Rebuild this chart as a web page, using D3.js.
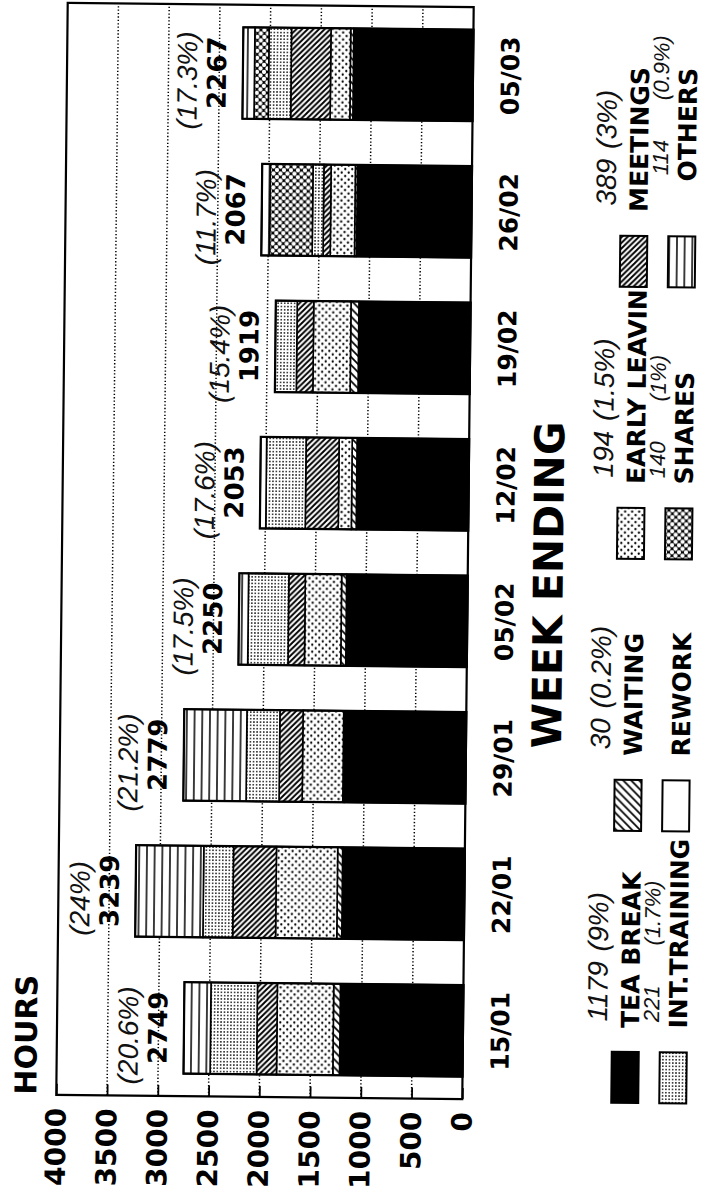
<!DOCTYPE html>
<html>
<head>
<meta charset="utf-8">
<script src="https://cdn.jsdelivr.net/npm/d3@7"></script>
<style>
  html, body { margin: 0; padding: 0; background: #fff; }
  svg { display: block; }
</style>
</head>
<body>
<svg id="chart" width="704" height="1199"></svg>
<script>
// Lost hours per week, split by reason (stacked from the base up)
const weeks        = ["15/01", "22/01", "29/01", "05/02", "12/02", "19/02", "26/02", "05/03"];
const teaBreak     = [1212, 1204, 1193, 1193, 1104, 1100, 1129, 1179];
const waiting      = [66, 49, 15, 49, 48, 78, 20, 30];
const earlyLeaving = [555, 603, 400, 358, 129, 367, 239, 194];
const meetings     = [196, 423, 228, 162, 325, 163, 71, 389];
const intTraining  = [458, 293, 325, 397, 389, 211, 107, 221];
const rework       = [0, 0, 0, 0, 58, 0, 0, 0];
const shares       = [0, 0, 0, 0, 0, 0, 421, 140];
const others       = [262, 667, 618, 91, 0, 0, 80, 114];
// hand-written share of available hours, one per week
const weekShare    = ["(20.6%)", "(24%)", "(21.2%)", "(17.5%)", "(17.6%)", "(15.4%)", "(11.7%)", "(17.3%)"];
const hourTicks    = [0, 500, 1000, 1500, 2000, 2500, 3000, 3500, 4000];

// legend entries, in stacking order
const reasonKeys   = ["tea", "waiting", "early", "meetings", "training", "rework", "shares", "others"];
const reasonNames  = ["TEA BREAK", "WAITING", "EARLY LEAVING", "MEETINGS", "INT.TRAINING", "REWORK", "SHARES", "OTHERS"];
const noteHours    = ["1179", "30", "194", "389", "221", "", "140", "114"];
const notePercent  = ["(9%)", "(0.2%)", "(1.5%)", "(3%)", "(1.7%)", "", "(1%)", "(0.9%)"];

const series = [teaBreak, waiting, earlyLeaving, meetings, intTraining, rework, shares, others];
const table = weeks.map((w, i) => {
  const row = { week: w };
  reasonKeys.forEach((k, j) => { row[k] = series[j][i]; });
  return row;
});

const FONT = "'DejaVu Sans', 'Liberation Sans', Arial, sans-serif";
const HAND = "'Liberation Sans', 'DejaVu Sans', sans-serif";

const svg = d3.select("#chart");
svg.append("rect").attr("width", 704).attr("height", 1199).attr("fill", "#fff");

// ---- fill patterns (tiles drawn in page orientation) ----
const defs = svg.append("defs");
function pattern(id, w, h, draw) {
  const p = defs.append("pattern")
    .attr("id", id)
    .attr("patternUnits", "userSpaceOnUse")
    .attr("width", w).attr("height", h)
    .attr("patternTransform", "rotate(90)");
  p.append("rect").attr("width", w).attr("height", h).attr("fill", "#fff");
  draw(p, w, h);
}
pattern("p-waiting", 8, 8, p => p.append("path")
  .attr("d", "M-2,-2L10,10M-2,6L2,10M6,-2L10,2")
  .attr("stroke", "#000").attr("stroke-width", 1.7));
pattern("p-early", 7, 7, p => {
  p.append("circle").attr("cx", 1.75).attr("cy", 1.75).attr("r", 1.15).attr("fill", "#000");
  p.append("circle").attr("cx", 5.25).attr("cy", 5.25).attr("r", 1.15).attr("fill", "#000");
});
pattern("p-meetings", 5.6, 5.6, p => p.append("path")
  .attr("d", "M-1,6.6L6.6,-1M-1.4,1.4L1.4,-1.4M4.2,7L7,4.2")
  .attr("stroke", "#000").attr("stroke-width", 1.9));
pattern("p-training", 3.3, 3.3, p => p.append("circle")
  .attr("cx", 1.65).attr("cy", 1.65).attr("r", 0.85).attr("fill", "#000"));
pattern("p-shares", 7, 7, p => {
  p.append("rect").attr("width", 7).attr("height", 7).attr("fill", "#000");
  [[0, 0], [7, 0], [0, 7], [7, 7], [3.5, 3.5]].forEach(([cx, cy]) =>
    p.append("circle").attr("cx", cx).attr("cy", cy).attr("r", 2.15).attr("fill", "#fff"));
});
pattern("p-others", 7.7, 8, p => p.append("path")
  .attr("d", "M3.85,-1V9").attr("stroke", "#000").attr("stroke-width", 1.5));

const fills = {
  tea: "#000", waiting: "url(#p-waiting)", early: "url(#p-early)", meetings: "url(#p-meetings)",
  training: "url(#p-training)", rework: "#fff", shares: "url(#p-shares)", others: "url(#p-others)"
};

// ---- chart drawn upright, then turned a quarter turn onto the page ----
const g = svg.append("g")
  .attr("transform", "rotate(0.6,265,550) translate(0,1199) rotate(-90)");

const plotLeft = 102, plotRight = 1194, plotTop = 62, plotBottom = 468;

const x = d3.scaleBand().domain(weeks).range([plotLeft, plotRight])
  .paddingInner(0.33).paddingOuter(0.165);
const y = d3.scaleLinear().domain([0, 4000]).range([plotBottom, plotTop]);

// dotted grid
g.append("g").selectAll("line")
  .data(hourTicks.filter(t => t > 0 && t < 4000))
  .join("line")
  .attr("x1", plotLeft).attr("x2", plotRight)
  .attr("y1", d => y(d)).attr("y2", d => y(d))
  .attr("stroke", "#000").attr("stroke-width", 1.5)
  .attr("stroke-dasharray", "1.3 2.1");

// value axis
const yAxis = d3.axisLeft(y).tickValues(hourTicks).tickFormat(d3.format("d"))
  .tickSizeInner(-11).tickSizeOuter(0).tickPadding(13);
const ya = g.append("g").attr("transform", `translate(${plotLeft},0)`).call(yAxis);
ya.select(".domain").remove();
ya.selectAll(".tick line").attr("stroke", "#000").attr("stroke-width", 1.8);
ya.selectAll(".tick text")
  .attr("font-family", FONT).attr("font-weight", "bold").attr("font-size", 28).attr("fill", "#000");

// stacked bars
const stack = d3.stack().keys(reasonKeys)(table);
g.append("g").selectAll("g")
  .data(stack)
  .join("g")
  .attr("fill", d => fills[d.key])
  .selectAll("rect")
  .data(d => d.filter(s => s[1] - s[0] > 0))
  .join("rect")
  .attr("x", d => x(d.data.week))
  .attr("width", x.bandwidth())
  .attr("y", d => y(d[1]))
  .attr("height", d => y(d[0]) - y(d[1]))
  .attr("stroke", "#000").attr("stroke-width", 1.6);

const totals = table.map(r => d3.sum(reasonKeys, k => r[k]));

g.append("g").selectAll("rect")
  .data(weeks)
  .join("rect")
  .attr("x", d => x(d))
  .attr("width", x.bandwidth())
  .attr("y", (d, i) => y(totals[i]))
  .attr("height", (d, i) => y(0) - y(totals[i]))
  .attr("fill", "none").attr("stroke", "#000").attr("stroke-width", 2.2);

// frame
g.append("rect")
  .attr("x", plotLeft).attr("y", plotTop).attr("width", plotRight - plotLeft).attr("height", plotBottom - plotTop)
  .attr("fill", "none").attr("stroke", "#000").attr("stroke-width", 2.2);

// totals and hand-written shares above each bar
g.append("g").selectAll("text")
  .data(weeks)
  .join("text")
  .attr("x", d => x(d) + x.bandwidth() / 2)
  .attr("y", (d, i) => y(totals[i]) - 17)
  .attr("text-anchor", "middle")
  .attr("font-family", FONT).attr("font-weight", "bold").attr("font-size", 26)
  .text((d, i) => totals[i]);

g.append("g").selectAll("text")
  .data(weeks)
  .join("text")
  .attr("x", d => x(d) + x.bandwidth() / 2 - 8)
  .attr("y", (d, i) => y(totals[i]) - 46)
  .attr("text-anchor", "middle")
  .attr("font-family", HAND).attr("font-style", "italic").attr("font-size", 28)
  .attr("fill", "#111")
  .text((d, i) => weekShare[i]);

// week labels
g.append("g").selectAll("text")
  .data(weeks)
  .join("text")
  .attr("x", d => x(d) + x.bandwidth() / 2)
  .attr("y", 514)
  .attr("text-anchor", "middle")
  .attr("font-family", FONT).attr("font-weight", "bold").attr("font-size", 25)
  .text(d => d);

// titles
g.append("text").attr("x", plotLeft).attr("y", 42)
  .attr("font-family", FONT).attr("font-weight", "bold").attr("font-size", 30)
  .text("HOURS");
g.append("text").attr("x", 617).attr("y", 563).attr("text-anchor", "middle")
  .attr("font-family", FONT).attr("font-weight", "bold").attr("font-size", 41)
  .text("WEEK ENDING");

// legend: two rows of four
const legendCol = i => 100 + (i % 4) * 272;
const legendRow = i => (i < 4 ? 617 : 665);
const legendText = i => legendCol(i) + boxW + (i === 7 ? 55 : 24);
const boxW = 51, boxH = 27;

const lg = g.append("g").selectAll("g")
  .data(reasonKeys)
  .join("g");

lg.append("text")
  .attr("x", (d, i) => legendText(i))
  .attr("y", (d, i) => legendRow(i) + boxH)
  .attr("font-family", FONT).attr("font-weight", "bold").attr("font-size", 25)
  .text((d, i) => reasonNames[i]);

lg.append("rect")
  .attr("x", (d, i) => legendCol(i))
  .attr("y", (d, i) => legendRow(i))
  .attr("width", boxW).attr("height", boxH)
  .attr("fill", d => fills[d])
  .attr("stroke", "#000").attr("stroke-width", 2);

// hand-written hours and shares beside each reason
const notes = lg.append("text")
  .attr("x", (d, i) => legendText(i) + 6)
  .attr("y", (d, i) => (i < 4 ? 612 : 664))
  .attr("font-family", HAND).attr("font-style", "italic")
  .attr("font-size", (d, i) => (i < 4 ? 28 : 22))
  .attr("fill", "#111");
notes.append("tspan").text((d, i) => noteHours[i]);
notes.append("tspan").attr("dx", (d, i) => (i < 4 ? 10 : 40)).text((d, i) => notePercent[i]);
</script>
</body>
</html>
